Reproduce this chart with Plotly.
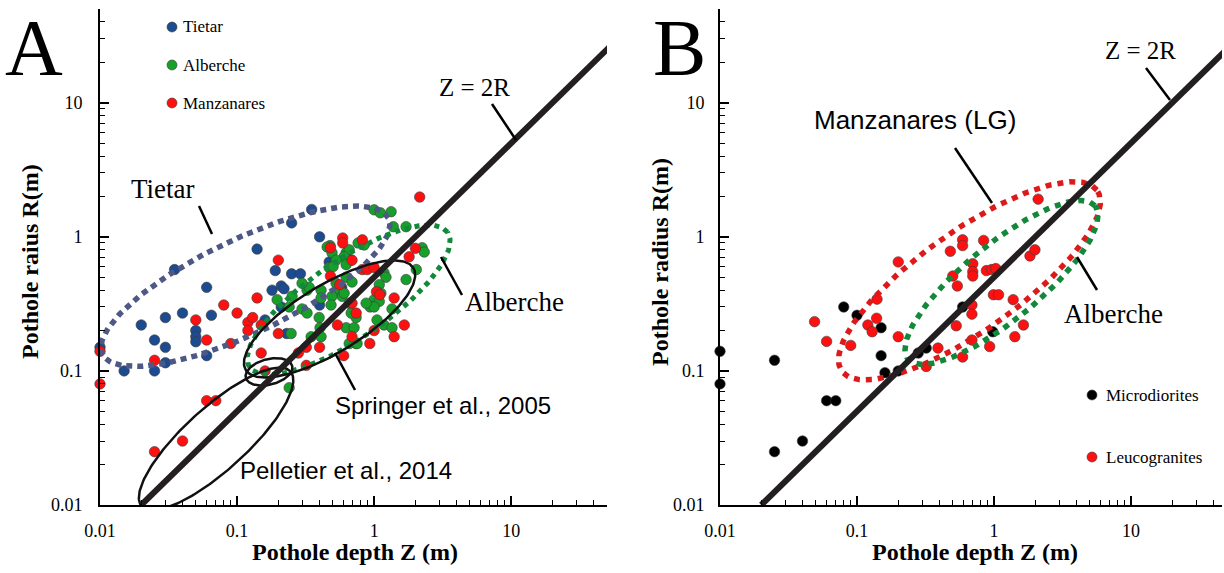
import numpy as np
import plotly.graph_objects as go

# ---------------- data (Z = depth, R = radius, metres) ----------------
tietar_z = [0.01, 0.015, 0.02, 0.025, 0.025, 0.03, 0.03, 0.03, 0.035, 0.04, 0.05, 0.05, 0.05, 0.06, 0.06,
            0.065, 0.14, 0.16, 0.18, 0.19, 0.21, 0.22, 0.21, 0.23, 0.25, 0.25, 0.29, 0.35, 0.40, 0.40,
            0.47, 0.68, 0.58]
tietar_r = [0.15, 0.10, 0.22, 0.17, 0.10, 0.25, 0.15, 0.115, 0.57, 0.27, 0.20, 0.18, 0.165, 0.42, 0.13,
            0.26, 0.81, 0.24, 0.40, 0.56, 0.43, 0.41, 0.30, 0.19, 1.27, 0.53, 0.53, 1.6, 1.0, 0.31,
            0.65, 0.67, 0.42]

alberche_z = [1.0, 1.11, 1.33, 1.38, 1.71, 2.24, 2.32, 2.03, 1.71, 1.18, 1.22, 1.09, 1.12, 1.0, 1.09,
              0.935, 1.0, 0.874, 0.764, 0.846, 0.477, 0.454, 0.493, 0.625, 0.658, 0.604, 0.528, 0.47,
              0.502, 0.625, 0.625, 0.69, 0.556, 0.584, 0.493, 0.485, 0.41, 0.41, 0.324, 0.336, 0.298,
              0.248, 0.196, 0.24, 0.298, 0.397, 0.403, 0.41, 0.625, 0.714, 0.739, 0.739, 0.658, 0.68,
              1.18, 1.35, 1.05, 1.35, 0.252, 0.324, 0.347, 0.658, 0.751, 0.24, 0.604, 0.528]
alberche_r = [1.59, 1.51, 1.54, 1.19, 1.19, 0.83, 0.77, 0.57, 0.48, 0.54, 0.50, 0.44, 0.38, 0.34, 0.33,
              0.30, 0.30, 0.32, 0.90, 0.87, 0.86, 0.84, 0.76, 0.76, 0.80, 0.71, 0.67, 0.59,
              0.60, 0.62, 0.50, 0.46, 0.40, 0.36, 0.36, 0.31, 0.40, 0.35, 0.40, 0.42, 0.45,
              0.19, 0.34, 0.30, 0.29, 0.25, 0.21, 0.18, 0.21, 0.21, 0.16, 0.25, 0.32, 0.27,
              0.22, 0.21, 0.24, 0.29, 0.36, 0.27, 0.18, 0.16, 0.16, 0.075, 0.38, 0.45]

manz_z = [0.01, 0.01, 0.025, 0.05, 0.06, 0.08, 0.10, 0.12, 0.12, 0.13, 0.14, 0.15, 0.09, 0.15, 0.20,
          0.20, 0.16, 0.32, 0.32, 0.40, 0.54, 0.59, 0.59, 0.69, 0.69, 0.82, 0.82, 0.48, 0.06, 0.07,
          0.04, 0.025, 2.15, 0.48, 0.89, 1.0, 2.0, 1.4, 1.66, 1.4, 1.0, 0.93, 0.60, 0.28, 0.74,
          1.04, 1.1, 0.69, 0.56, 1.8]
manz_r = [0.14, 0.08, 0.12, 0.24, 0.17, 0.31, 0.27, 0.23, 0.20, 0.25, 0.35, 0.22, 0.16, 0.136, 0.67,
          0.19, 0.10, 0.11, 0.15, 0.15, 0.22, 0.98, 0.90, 0.67, 0.32, 0.95, 0.57, 0.51, 0.06, 0.06,
          0.03, 0.025, 1.98, 0.83, 0.57, 0.59, 0.82, 0.35, 0.22, 0.18, 0.20, 0.16, 0.13, 0.136, 0.27,
          0.39, 0.37, 0.18, 0.44, 0.71]

micro_z = [0.01, 0.01, 0.025, 0.025, 0.04, 0.06, 0.07, 0.08, 0.10, 0.15, 0.15, 0.16, 0.20, 0.28, 0.32,
           0.98, 0.59]
micro_r = [0.14, 0.08, 0.12, 0.025, 0.03, 0.06, 0.06, 0.30, 0.26, 0.21, 0.13, 0.097, 0.10, 0.136, 0.148,
           0.196, 0.30]

leuco_z = [0.049, 0.06, 0.09, 0.12, 0.129, 0.139, 0.14, 0.20, 0.20, 0.32, 0.39, 0.48, 0.59, 0.59, 0.50,
           0.54, 0.70, 0.70, 0.70, 0.69, 0.69, 0.53, 0.69, 0.59, 2.1, 0.84, 1.83, 1.99, 0.88, 0.96,
           1.03, 0.99, 1.08, 1.38, 1.64, 1.42, 0.93]
leuco_r = [0.233, 0.166, 0.155, 0.22, 0.196, 0.247, 0.343, 0.65, 0.18, 0.108, 0.148, 0.78, 0.95, 0.86, 0.51,
           0.43, 0.63, 0.55, 0.51, 0.31, 0.265, 0.217, 0.17, 0.127, 1.91, 0.94, 0.72, 0.80, 0.56, 0.57,
           0.58, 0.37, 0.37, 0.34, 0.22, 0.18, 0.152]

# Z = 2R reference line
line_z = [0.02, 100]
line_r = [0.01, 50]

tick_vals = [0.01, 0.1, 1, 10]
tick_text = ["0.01", "0.1", "1", "10"]
minor_vals = [0.02, 0.03, 0.04, 0.05, 0.06, 0.07, 0.08, 0.09,
              0.2, 0.3, 0.4, 0.5, 0.6, 0.7, 0.8, 0.9,
              2, 3, 4, 5, 6, 7, 8, 9, 20, 30, 40]

# ---------------- helpers ----------------
W, H = 1224, 573
SERIF = "Liberation Serif"
SANS = "Liberation Sans"


def px(x):
    return x / W


def py(y):
    return 1 - y / H


def ellipse(zc, rc, a, b, ang):
    t = np.linspace(0, 2 * np.pi, 241)
    th = np.radians(ang)
    u = np.log10(zc) + a * np.cos(t) * np.cos(th) - b * np.sin(t) * np.sin(th)
    v = np.log10(rc) + a * np.cos(t) * np.sin(th) + b * np.sin(t) * np.cos(th)
    return 10 ** u, 10 ** v


fig = go.Figure()

C_BLUE = "#1d4b8f"
C_GREEN = "#16a02a"
C_RED = "#ff1010"
C_BLACK = "#000000"


def pts(z, r, color, xa, ya, name):
    fig.add_trace(go.Scatter(x=z, y=r, mode="markers", name=name, xaxis=xa, yaxis=ya,
                             cliponaxis=False, showlegend=False,
                             marker=dict(size=10.5, color=color, line=dict(color="#3a3a3a", width=0.6))))


def curve(xy, color, width, dash, xa, ya):
    fig.add_trace(go.Scatter(x=xy[0], y=xy[1], mode="lines", xaxis=xa, yaxis=ya, showlegend=False,
                             hoverinfo="skip", line=dict(color=color, width=width, dash=dash)))


# Panel A
pts(tietar_z, tietar_r, C_BLUE, "x", "y", "Tietar")
pts(alberche_z, alberche_r, C_GREEN, "x", "y", "Alberche")
pts(manz_z, manz_r, C_RED, "x", "y", "Manzanares")
curve(ellipse(0.115, 0.428, 1.16, 0.35, 26), "#4e5885", 5.5, "6px,5px", "x", "y")
curve(ellipse(0.652, 0.339, 0.88, 0.29, 35), "#12883a", 5, "5px,5px", "x", "y")
curve(ellipse(0.473, 0.244, 0.72, 0.25, 32), "#111111", 2.5, "solid", "x", "y")
curve(ellipse(0.0703, 0.0311, 0.74, 0.23, 43), "#111111", 2.5, "solid", "x", "y")
curve(ellipse(0.171, 0.0984, 0.175, 0.095, 15), "#111111", 2.5, "solid", "x", "y")
curve((line_z, line_r), "#231f20", 6, "solid", "x", "y")

# Panel B
pts(micro_z, micro_r, C_BLACK, "x2", "y2", "Microdiorites")
pts(leuco_z, leuco_r, C_RED, "x2", "y2", "Leucogranites")
curve(ellipse(0.662, 0.470, 1.15, 0.37, 36), "#dd1a1a", 5.5, "6px,6px", "x2", "y2")
curve(ellipse(1.135, 0.457, 0.89, 0.28, 40), "#12883a", 5.5, "6px,6px", "x2", "y2")
curve((line_z, line_r), "#231f20", 6, "solid", "x2", "y2")

axis_common = dict(type="log", showgrid=False, zeroline=False, showline=True, linecolor="black",
                   linewidth=2, ticks="inside", ticklen=9, tickwidth=1.5, tickcolor="black",
                   tickvals=tick_vals, ticktext=tick_text, automargin=False,
                   tickfont=dict(family=SERIF, size=18, color="black"),
                   minor=dict(tickvals=minor_vals, ticks="inside", ticklen=5, tickwidth=1.2,
                              tickcolor="black"))
yr = [-2, np.log10(50)]
fig.update_layout(
    width=W, height=H, margin=dict(l=0, r=0, t=0, b=0, autoexpand=False),
    plot_bgcolor="white", paper_bgcolor="white", showlegend=False,
    xaxis=dict(axis_common, domain=[px(100), px(607)], range=[-2, np.log10(50)], anchor="y",
               ticklabelstandoff=8),
    yaxis=dict(axis_common, domain=[py(505), py(9)], range=yr, anchor="x", ticklabelstandoff=12),
    xaxis2=dict(axis_common, domain=[px(720), px(1222)], range=[-2, -2 + 502 / 137], anchor="y2",
                ticklabelstandoff=8),
    yaxis2=dict(axis_common, domain=[py(505), py(9)], range=yr, anchor="x2", ticklabelstandoff=10),
)

annotations = []


def text(s, x, y, size, family=SERIF, xanchor="center", angle=0, bold=False):
    annotations.append(dict(text=f"<b>{s}</b>" if bold else s, x=px(x), y=py(y), xref="paper", yref="paper",
                            showarrow=False, xanchor=xanchor, yanchor="middle", textangle=angle,
                            font=dict(family=family, size=size, color="black")))


text("A", 34, 48, 80)
text("B", 679, 48, 80)
text("Pothole depth Z (m)", 355, 552, 24, bold=True)
text("Pothole depth Z (m)", 975, 552, 24, bold=True)
text("Pothole raius R(m)", 30, 262, 24, angle=-90, bold=True)
text("Pothole radius R(m)", 660, 262, 24, angle=-90, bold=True)

# legends
LEG_A = [("Tietar", 27, C_BLUE), ("Alberche", 65, C_GREEN), ("Manzanares", 103, C_RED)]
LEG_B = [("Microdiorites", 395, C_BLACK), ("Leucogranites", 457, C_RED)]
shapes = []
for (lab, yy, col) in LEG_A:
    text(lab, 181, yy, 17, xanchor="left")
    shapes.append(dict(type="circle", xref="paper", yref="paper", x0=px(167), x1=px(177),
                       y0=py(yy + 5), y1=py(yy - 5), fillcolor=col, line=dict(color="#3a3a3a", width=0.6)))
for (lab, yy, col) in LEG_B:
    text(lab, 1104, yy, 17, xanchor="left")
    shapes.append(dict(type="circle", xref="paper", yref="paper", x0=px(1087), x1=px(1097),
                       y0=py(yy + 5), y1=py(yy - 5), fillcolor=col, line=dict(color="#3a3a3a", width=0.6)))

# labels
text("Z = 2R", 474, 88, 25)
text("Tietar", 163, 189, 27)
text("Alberche", 463, 302, 27, xanchor="left")
text("Springer et al., 2005", 333, 405, 24, family=SANS, xanchor="left")
text("Pelletier et al., 2014", 238, 470, 24, family=SANS, xanchor="left")
text("Z = 2R", 1140, 50, 25)
text("Manzanares (LG)", 915, 120, 26, family=SANS)
text("Alberche", 1062, 314, 27, xanchor="left")

for (x0, y0, x1, y1) in [(492, 104, 516, 140), (199, 206, 212, 234), (441, 257, 462, 295),
                         (335, 353, 355, 390), (1146, 68, 1170, 100), (955, 148, 992, 203),
                         (1077, 257, 1097, 290)]:
    shapes.append(dict(type="line", xref="paper", yref="paper", x0=px(x0), y0=py(y0), x1=px(x1), y1=py(y1),
                       line=dict(color="black", width=2.5)))

fig.update_layout(annotations=annotations, shapes=shapes)
fig.write_html("out.html")
